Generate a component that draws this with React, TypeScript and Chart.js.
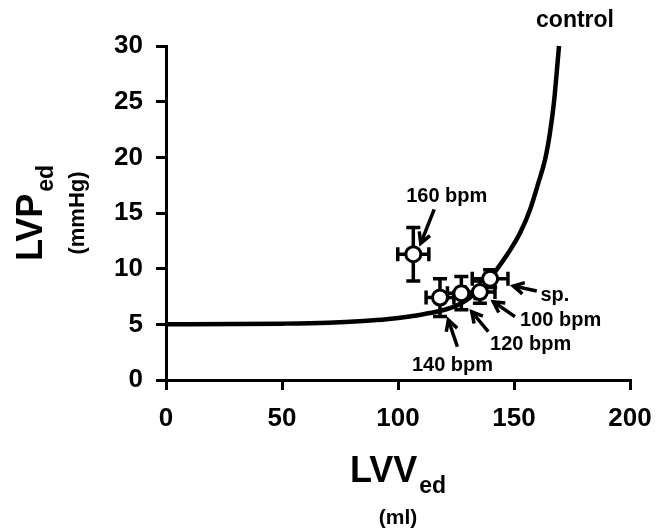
import React, { useEffect, useRef } from 'react';
import { Chart, registerables } from 'chart.js';

Chart.register(...registerables);

// ---- data ----
const conditions = ['sp.', '100 bpm', '120 bpm', '140 bpm', '160 bpm'];
const lvvMean = [139.7, 135.3, 127.3, 118.1, 106.6];
const lvpMean = [9.1, 7.9, 7.8, 7.4, 11.3];
const lvvSd = [7.7, 6.5, 6.0, 6.0, 6.7];
const lvpSd = [0.8, 1.0, 1.5, 1.7, 2.4];

const curveLvv = [0, 30, 50, 70, 85, 95, 105, 112, 118, 123, 127.3, 131, 135.3, 139.7, 142.5, 147.5, 152.6, 156.9, 160.5, 163.4, 165.5, 167.2, 168.4, 169.4];
const curveLvp = [5, 5.02, 5.06, 5.15, 5.3, 5.45, 5.7, 5.95, 6.2, 6.5, 6.9, 7.4, 8.1, 9.1, 9.9, 11.4, 13.2, 15.3, 17.7, 19.8, 22.2, 24.9, 27.6, 30];

const xTicks = [0, 50, 100, 150, 200];
const yTicks = [0, 5, 10, 15, 20, 25, 30];

const curveName = 'control';

// annotation placement (data units)
const annotations = [
  { text: conditions[4], tx: 121.0, ty: 16.46, align: 'center', from: [115.6, 15.33], to: [109.8, 12.28] },
  { text: conditions[0], tx: 161.4, ty: 7.63, align: 'left', from: [159.8, 7.99], to: [149.7, 8.44] },
  { text: conditions[1], tx: 152.6, ty: 5.39, align: 'left', from: [150.4, 5.69], to: [141.1, 7.03] },
  { text: conditions[2], tx: 139.7, ty: 3.23, align: 'left', from: [138.9, 4.34], to: [131.8, 6.13] },
  { text: conditions[3], tx: 106.0, ty: 1.26, align: 'left', from: [125.6, 2.99], to: [121.7, 5.39] },
  { text: curveName, tx: 176.3, ty: 32.3, align: 'center', from: null, to: null },
];

const FONT = "'Liberation Sans', Arial, Helvetica, sans-serif";

const overlayPlugin = {
  id: 'overlay',
  beforeDatasetDraw(chart: any, args: any) {
    if (args.index !== 0) return;
    const { ctx } = chart;
    const x = chart.scales.x;
    const y = chart.scales.y;
    ctx.save();
    ctx.strokeStyle = '#000';
    ctx.lineWidth = 3.5;
    const cap = 7;
    lvvMean.forEach((v, i) => {
      const px = x.getPixelForValue(v);
      const py = y.getPixelForValue(lvpMean[i]);
      const x0 = x.getPixelForValue(v - lvvSd[i]);
      const x1 = x.getPixelForValue(v + lvvSd[i]);
      const y0 = y.getPixelForValue(lvpMean[i] - lvpSd[i]);
      const y1 = y.getPixelForValue(lvpMean[i] + lvpSd[i]);
      ctx.beginPath();
      ctx.moveTo(x0, py); ctx.lineTo(x1, py);
      ctx.moveTo(px, y0); ctx.lineTo(px, y1);
      ctx.moveTo(x0, py - cap); ctx.lineTo(x0, py + cap);
      ctx.moveTo(x1, py - cap); ctx.lineTo(x1, py + cap);
      ctx.moveTo(px - cap, y0); ctx.lineTo(px + cap, y0);
      ctx.moveTo(px - cap, y1); ctx.lineTo(px + cap, y1);
      ctx.stroke();
    });
    ctx.restore();
  },
  afterDraw(chart: any) {
    const { ctx, chartArea } = chart;
    const x = chart.scales.x;
    const y = chart.scales.y;
    ctx.save();
    ctx.fillStyle = '#000';
    ctx.strokeStyle = '#000';
    // annotations
    annotations.forEach((a) => {
      ctx.font = `bold ${a.text === curveName ? 23 : 20}px ${FONT}`;
      ctx.textAlign = a.align;
      ctx.textBaseline = 'middle';
      ctx.fillText(a.text, x.getPixelForValue(a.tx), y.getPixelForValue(a.ty));
      if (a.from && a.to) {
        const fx = x.getPixelForValue(a.from[0]);
        const fy = y.getPixelForValue(a.from[1]);
        const tx = x.getPixelForValue(a.to[0]);
        const ty = y.getPixelForValue(a.to[1]);
        const ang = Math.atan2(ty - fy, tx - fx);
        const hl = 12;
        const spread = 0.5;
        ctx.lineWidth = 3.5;
        ctx.lineCap = 'butt';
        ctx.lineJoin = 'miter';
        ctx.beginPath();
        ctx.moveTo(fx, fy); ctx.lineTo(tx, ty);
        ctx.stroke();
        ctx.beginPath();
        ctx.moveTo(tx - hl * Math.cos(ang - spread), ty - hl * Math.sin(ang - spread));
        ctx.lineTo(tx, ty);
        ctx.lineTo(tx - hl * Math.cos(ang + spread), ty - hl * Math.sin(ang + spread));
        ctx.stroke();
      }
    });

    // x axis title
    const cx = (chartArea.left + chartArea.right) / 2;
    ctx.textBaseline = 'alphabetic';
    ctx.textAlign = 'left';
    ctx.font = `bold 36px ${FONT}`;
    const w1 = ctx.measureText('LVV').width;
    ctx.font = `bold 23px ${FONT}`;
    const w2 = ctx.measureText('ed').width;
    const sx = cx - (w1 + w2 + 2) / 2;
    ctx.font = `bold 36px ${FONT}`;
    ctx.fillText('LVV', sx, 482);
    ctx.font = `bold 23px ${FONT}`;
    ctx.fillText('ed', sx + w1 + 2, 493);
    ctx.textAlign = 'center';
    ctx.font = `bold 21px ${FONT}`;
    ctx.fillText('(ml)', cx, 524);

    // y axis title
    const cy = (chartArea.top + chartArea.bottom) / 2;
    ctx.save();
    ctx.translate(42, cy);
    ctx.rotate(-Math.PI / 2);
    ctx.textAlign = 'left';
    ctx.font = `bold 36px ${FONT}`;
    const v1 = ctx.measureText('LVP').width;
    ctx.font = `bold 23px ${FONT}`;
    const v2 = ctx.measureText('ed').width;
    const s2 = -(v1 + v2 + 2) / 2;
    ctx.font = `bold 36px ${FONT}`;
    ctx.fillText('LVP', s2, 0);
    ctx.font = `bold 23px ${FONT}`;
    ctx.fillText('ed', s2 + v1 + 2, 11);
    ctx.textAlign = 'center';
    ctx.font = `bold 22px ${FONT}`;
    ctx.fillText('(mmHg)', 0, 42);
    ctx.restore();

    ctx.restore();
  },
};

export default function App() {
  const ref = useRef<HTMLCanvasElement | null>(null);
  useEffect(() => {
    if (!ref.current) return;
    const points = lvvMean.map((v, i) => ({ x: v, y: lvpMean[i] }));
    const curve = curveLvv.map((v, i) => ({ x: v, y: curveLvp[i] }));
    const chart = new Chart(ref.current, {
      type: 'scatter',
      data: {
        datasets: [
          {
            label: 'conditions',
            data: points,
            pointRadius: 7.5,
            pointBackgroundColor: '#fff',
            pointBorderColor: '#000',
            pointBorderWidth: 3,
            showLine: false,
            clip: false,
          } as any,
          {
            label: curveName,
            data: curve,
            showLine: true,
            pointRadius: 0,
            borderColor: '#000',
            borderWidth: 4.5,
            cubicInterpolationMode: 'monotone',
            clip: false,
          } as any,
        ],
      },
      options: {
        animation: false,
        responsive: false,
        devicePixelRatio: 1,
        layout: { padding: { top: 46, right: 27, left: 0, bottom: 0 } },
        plugins: { legend: { display: false }, tooltip: { enabled: false } },
        scales: {
          x: {
            type: 'linear',
            min: 0,
            max: 200,
            afterFit: (s: any) => { s.height = 150; s.paddingLeft = 0; s.paddingRight = 0; },
            afterBuildTicks: (s: any) => { s.ticks = xTicks.map((v) => ({ value: v })); },
            grid: { display: true, drawOnChartArea: false, drawTicks: true, tickLength: 10, color: '#000', lineWidth: 3 },
            border: { display: true, color: '#000', width: 3 },
            ticks: { color: '#000', padding: 13, font: { family: FONT, size: 26, weight: 'bold' }, maxRotation: 0 },
          },
          y: {
            type: 'linear',
            min: 0,
            max: 30,
            afterFit: (s: any) => { s.width = 166; s.paddingTop = 0; s.paddingBottom = 0; },
            afterBuildTicks: (s: any) => { s.ticks = yTicks.map((v) => ({ value: v })); },
            grid: { display: true, drawOnChartArea: false, drawTicks: true, tickLength: 10, color: '#000', lineWidth: 3 },
            border: { display: true, color: '#000', width: 3 },
            ticks: { color: '#000', padding: 13, font: { family: FONT, size: 26, weight: 'bold' } },
          },
        },
      } as any,
      plugins: [overlayPlugin],
    });
    return () => chart.destroy();
  }, []);
  return (
    <div style={{ position: 'absolute', left: 0, top: 0, width: 657, height: 530, background: '#fff' }}>
      <canvas ref={ref} width={657} height={530} style={{ width: 657, height: 530 }} />
    </div>
  );
}
